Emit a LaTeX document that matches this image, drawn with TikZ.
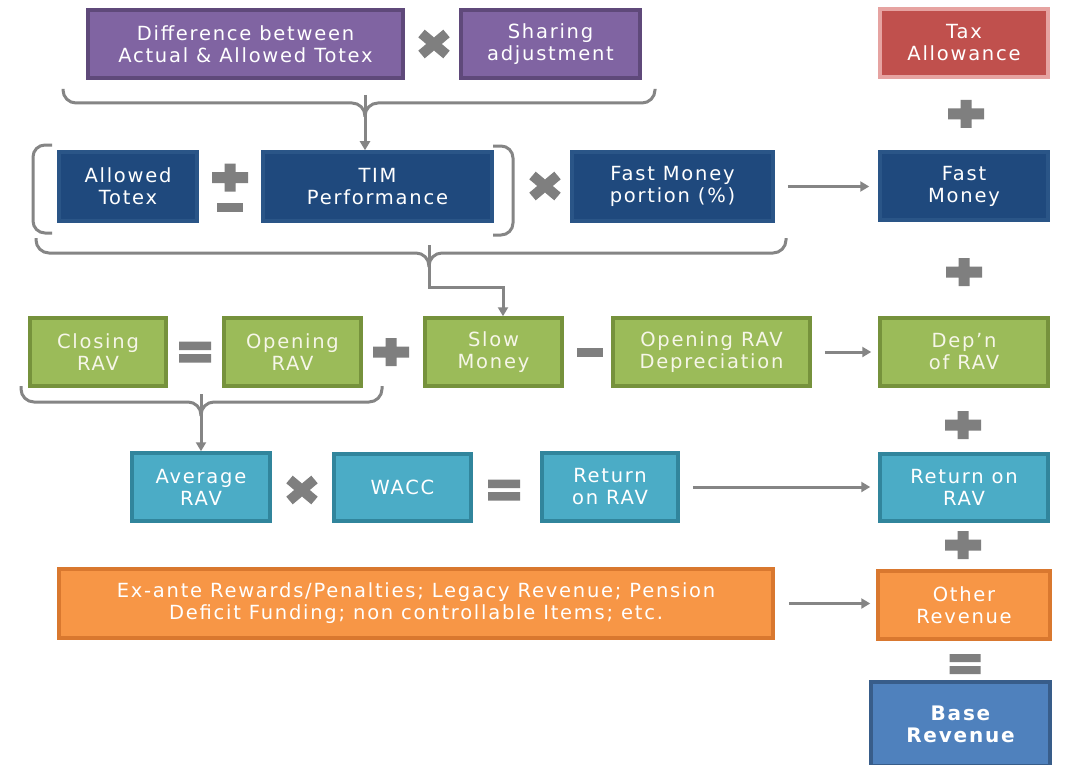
\documentclass[tikz,border=0pt]{standalone}
\usepackage{fontspec}
\setmainfont{DejaVu Sans}[LetterSpace=9]
\usetikzlibrary{arrows.meta}

\definecolor{purpfill}{HTML}{8064A2}
\definecolor{purpedge}{HTML}{5F497A}
\definecolor{navyfill}{HTML}{1F497D}
\definecolor{navyedge}{HTML}{2A5587}
\definecolor{greenfill}{HTML}{9BBB59}
\definecolor{greenedge}{HTML}{76923C}
\definecolor{tealfill}{HTML}{4BACC6}
\definecolor{tealedge}{HTML}{31859C}
\definecolor{orangefill}{HTML}{F79646}
\definecolor{orangeedge}{HTML}{D9782F}
\definecolor{redfill}{HTML}{C0504D}
\definecolor{rededge}{HTML}{E6A3A1}
\definecolor{basefill}{HTML}{4F81BD}
\definecolor{baseedge}{HTML}{385D8A}
\definecolor{opgray}{HTML}{7F7F7F}
\definecolor{linegray}{HTML}{858585}
\definecolor{cream}{HTML}{F6F6E8}

\tikzset{
  box/.style={draw, line width=3.5pt, align=center, inner sep=0pt,
    text=white, font=\fontsize{19.5}{22}\selectfont},
  purplebox/.style={box, fill=purpfill, draw=purpedge},
  navybox/.style={box, fill=navyfill, draw=navyedge},
  greenbox/.style={box, fill=greenfill, draw=greenedge, text=cream},
  tealbox/.style={box, fill=tealfill, draw=tealedge},
  orangebox/.style={box, fill=orangefill, draw=orangeedge},
  redbox/.style={box, fill=redfill, draw=rededge},
  basebox/.style={box, fill=basefill, draw=baseedge, font=\fontsize{20}{22}\selectfont\bfseries},
  conn/.style={draw=linegray, line width=3pt},
  arr/.style={conn, -{Triangle[length=9pt,width=10pt]}},
  brace/.style={conn, rounded corners=13pt},
  plusop/.pic={\fill[opgray] (-18,-5.5) rectangle (18,5.5) (-5.5,-14) rectangle (5.5,14);},
  minusop/.pic={\fill[opgray] (-13,-4.5) rectangle (13,4.5);},
  timesop/.pic={\draw[opgray, line width=10pt] (-12.5,-10.5) -- (12.5,10.5) (-12.5,10.5) -- (12.5,-10.5);},
  eqop/.pic={\fill[opgray] (-16,-10.5) rectangle (16,-2) (-16,2) rectangle (16,10.5);},
  eqsmall/.pic={\fill[opgray] (-15.5,-10) rectangle (15.5,-2) (-15.5,2) rectangle (15.5,10);}
}

\begin{document}
\begin{tikzpicture}[x=1pt, y=-1pt]
\clip (0,0) rectangle (1081,765);
\fill[white] (0,0) rectangle (1081,765);

% --- row 1: totex sharing and tax
\node[purplebox, minimum width=315pt, minimum height=68pt] (diff) at (245.5,44) {Difference between\\Actual \& Allowed Totex};
\node[purplebox, minimum width=179pt, minimum height=68pt] (share) at (550.5,44) {Sharing\\adjustment};
\node[redbox, minimum width=168pt, minimum height=68pt] (tax) at (964,43) {Tax\\Allowance};
\pic at (434,44) {timesop};
\pic at (966,114) {plusop};

% --- row 2: fast money
\node[navybox, minimum width=138pt, minimum height=69pt] (allowed) at (128,186.5) {Allowed\\Totex};
\node[navybox, minimum width=229pt, minimum height=69pt] (tim) at (377.5,186.5) {TIM\\Performance};
\node[navybox, minimum width=201pt, minimum height=69pt] (fastp) at (672.5,186.5) {Fast Money\\portion (\%)};
\node[navybox, minimum width=168pt, minimum height=68pt] (fastm) at (964,186) {Fast\\Money};
\pic at (230,177.5) {plusop};
\pic at (230,207.5) {minusop};
\pic at (545,186) {timesop};
\pic at (964,272) {plusop};

% --- row 3: RAV roll-forward
\node[greenbox, minimum width=136pt, minimum height=68pt] (closing) at (98,352) {Closing\\RAV};
\node[greenbox, minimum width=137pt, minimum height=68pt] (opening) at (292.5,352) {Opening\\RAV};
\node[greenbox, minimum width=137pt, minimum height=68pt] (slow) at (493.5,352) {Slow\\Money};
\node[greenbox, minimum width=197pt, minimum height=68pt] (deprec) at (711.5,352) {Opening RAV\\Depreciation};
\node[greenbox, minimum width=168pt, minimum height=68pt] (depn) at (964,352) {Dep’n\\of RAV};
\pic at (195,352) {eqop};
\pic at (391,352) {plusop};
\pic at (590,352) {minusop};
\pic at (963,425) {plusop};

% --- row 4: return on RAV
\node[tealbox, minimum width=138pt, minimum height=68pt] (avg) at (201,487) {Average\\RAV};
\node[tealbox, minimum width=137pt, minimum height=67pt] (wacc) at (402.5,487.5) {WACC};
\node[tealbox, minimum width=136pt, minimum height=68pt] (retl) at (610,487) {Return\\on RAV};
\node[tealbox, minimum width=168pt, minimum height=67pt] (retr) at (964,487.5) {Return on\\RAV};
\pic at (302,490) {timesop};
\pic at (504,490) {eqop};
\pic at (963,545) {plusop};

% --- row 5: other revenue and total
\node[orangebox, minimum width=714pt, minimum height=69pt] (misc) at (416,603.5) {Ex-ante Rewards/Penalties; Legacy Revenue; Pension\\Deficit Funding; non controllable Items; etc.};
\node[orangebox, minimum width=172pt, minimum height=68pt] (other) at (964,605) {Other\\Revenue};
\pic at (965,664) {eqsmall};
\node[basebox, minimum width=179pt, minimum height=84pt] (base) at (960.5,724) {Base\\Revenue};

% --- brackets around allowed totex and TIM
\draw[conn, rounded corners=12pt] (52,145) -- (33,145) -- (33,233) -- (52,233);
\draw[conn, rounded corners=12pt] (493,146) -- (513,146) -- (513,235) -- (493,235);

% --- brace under the sharing product, feeding TIM
\coordinate (tbL) at (63,89);
\coordinate (tbR) at (655,89);
\coordinate (tbM) at (365,103);
\draw[brace] (tbL) |- (tbM) -- ++(0,14);
\draw[brace] (tbR) |- (tbM) -- ++(0,14);
\draw[arr] ([yshift=8pt]tbM) -- (tbM |- tim.north);

% --- brace under the fast money product, feeding slow money
\coordinate (mbL) at (36,238);
\coordinate (mbR) at (786,238);
\coordinate (mbM) at (429,253);
\coordinate (mbB) at (429,287);
\coordinate (mbC) at (503,287);
\draw[brace] (mbL) |- (mbM) -- ++(0,14);
\draw[brace] (mbR) |- (mbM) -- ++(0,14);
\draw[arr] ([yshift=8pt]mbM) -- (mbB) -- (mbC) -- (mbC |- slow.north);

% --- brace under closing and opening RAV, feeding average RAV
\coordinate (rbL) at (21,386);
\coordinate (rbR) at (382,386);
\coordinate (rbM) at (201,402);
\draw[brace] (rbL) |- (rbM) -- ++(0,14);
\draw[brace] (rbR) |- (rbM) -- ++(0,14);
\draw[arr] ([yshift=8pt]rbM) -- (rbM |- avg.north);

% --- transfer arrows to the right-hand column
\draw[arr] ([xshift=13pt]fastp.east) -- ([xshift=-9pt]fastp.east -| fastm.west);
\draw[arr] ([xshift=13pt]deprec.east) -- ([xshift=-7pt]deprec.east -| depn.west);
\draw[arr] ([xshift=13pt]retl.east) -- ([xshift=-8pt]retl.east -| retr.west);
\draw[arr] ([xshift=14pt]misc.east) -- ([xshift=-6pt]misc.east -| other.west);
\end{tikzpicture}
\end{document}
